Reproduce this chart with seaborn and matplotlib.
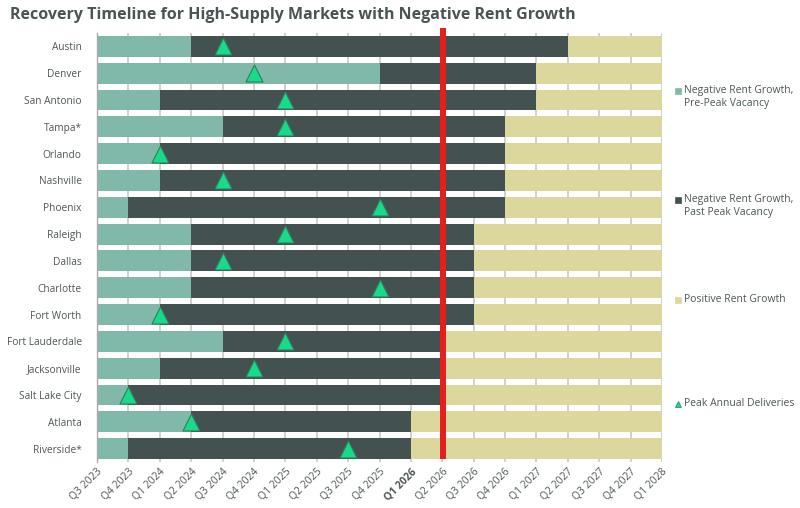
import matplotlib
matplotlib.use("Agg")
import matplotlib.pyplot as plt
import seaborn as sns
import pandas as pd
import numpy as np
from matplotlib.lines import Line2D

markets = ["Austin", "Denver", "San Antonio", "Tampa*", "Orlando", "Nashville",
           "Phoenix", "Raleigh", "Dallas", "Charlotte", "Fort Worth",
           "Fort Lauderdale", "Jacksonville", "Salt Lake City", "Atlanta", "Riverside*"]
quarters = ["Q3 2023", "Q4 2023", "Q1 2024", "Q2 2024", "Q3 2024", "Q4 2024",
            "Q1 2025", "Q2 2025", "Q3 2025", "Q4 2025", "Q1 2026", "Q2 2026",
            "Q3 2026", "Q4 2026", "Q1 2027", "Q2 2027", "Q3 2027", "Q4 2027", "Q1 2028"]
# quarter index (from Q3 2023) where each phase ends
pre_peak_end = [3, 9, 2, 4, 2, 2, 1, 3, 3, 3, 2, 4, 2, 1, 3, 1]
past_peak_end = [15, 14, 14, 13, 13, 13, 13, 12, 12, 12, 12, 11, 11, 11, 10, 10]
positive_end = [18] * 16
peak_deliveries = [4, 5, 6, 6, 2, 4, 9, 6, 4, 9, 2, 6, 5, 1, 3, 8]
current_quarter = 11.02

c_pre = "#80b9aa"
c_past = "#435251"
c_pos = "#dcd79c"
c_tri = "#19d98a"
c_red = "#e3201b"
txt = "#4d5656"

df = pd.DataFrame({"market": markets, "pre": pre_peak_end, "past": past_peak_end,
                   "pos": positive_end, "peak": peak_deliveries})

sns.set_theme(style="white")
plt.rcParams["font.family"] = ["Open Sans", "DejaVu Sans"]

fig = plt.figure(figsize=(8, 5.08), dpi=100)
ax = fig.add_axes([97/800, 1-462/508, 565/800, 429/508])

for q in range(len(quarters)):
    ax.axvline(q, color="#c4c4c4", lw=1.1, zorder=1)

for col, c in [("pos", c_pos), ("past", c_past), ("pre", c_pre)]:
    sns.barplot(data=df, y="market", x=col, color=c, orient="h", width=0.78,
                saturation=1, ax=ax, zorder=2, linewidth=0)
sns.scatterplot(data=df, y="market", x="peak", marker="^", s=150, color=c_tri,
                edgecolor="#2f7d5e", linewidth=0.8, ax=ax, zorder=4, legend=False)
ax.plot([current_quarter, current_quarter], [-0.69, 15.38], color=c_red, lw=4.3,
        zorder=5, clip_on=False, solid_capstyle="butt")

ax.set_xlim(0, 18)
ax.set_ylim(15.5, -0.5)
ax.set_xticks(range(len(quarters)))
ax.set_xticklabels(quarters, rotation=45, ha="right", rotation_mode="anchor",
                   fontsize=7.5, color=txt)
for lab in ax.get_xticklabels():
    if lab.get_text() == "Q1 2026":
        lab.set_fontweight("bold")
ax.tick_params(axis="y", labelsize=7.3, labelcolor=txt, length=0, pad=11)
ax.tick_params(axis="x", length=0, pad=3)
ax.set_xlabel("")
ax.set_ylabel("")
for s in ["top", "right", "bottom"]:
    ax.spines[s].set_visible(False)
ax.spines["left"].set_color("#aaaaaa")
ax.spines["left"].set_linewidth(1)

fig.text(10/800, 1-15/508, "Recovery Timeline for High-Supply Markets with Negative Rent Growth",
         fontsize=11.5, fontweight="bold", color="#4a5454", va="center", ha="left")

legend_items = [
    (94, "Negative Rent Growth,\nPre-Peak Vacancy", "s", c_pre),
    (203, "Negative Rent Growth,\nPast Peak Vacancy", "s", c_past),
    (300, "Positive Rent Growth", "s", c_pos),
    (404, "Peak Annual Deliveries", "^", c_tri),
]
for ypix, label, mk, col in legend_items:
    first_line_y = ypix if "\n" not in label else ypix - 3
    fig.add_artist(Line2D([678/800], [1-first_line_y/508], marker=mk, color=col,
                          markersize=5, linestyle="none",
                          markeredgecolor="#2f7d5e" if mk == "^" else col,
                          markeredgewidth=0.5, transform=fig.transFigure))
    fig.text(684/800, 1-(first_line_y-6)/508, label, fontsize=7.5, color=txt,
             va="top", ha="left", linespacing=1.3)

fig.savefig("out.png", dpi=100)
